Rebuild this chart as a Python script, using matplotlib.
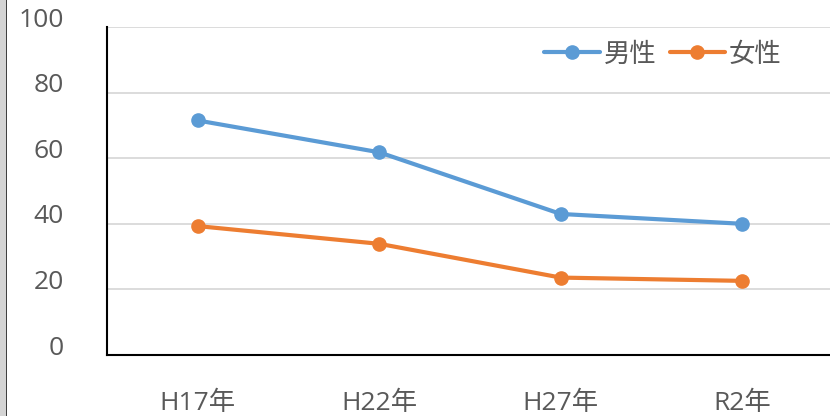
import matplotlib
matplotlib.use("Agg")
import matplotlib.pyplot as plt
import matplotlib.transforms as mtransforms
from matplotlib.patches import Rectangle

plt.rcParams['font.family'] = ['Open Sans', 'Noto Sans CJK JP', 'DejaVu Sans']

# --- data
categories = ["H17年", "H22年", "H27年", "R2年"]
male = [71.5, 61.8, 43.0, 40.0]
female = [39.3, 33.9, 23.6, 22.6]
yticks = [0, 20, 40, 60, 80, 100]

fig = plt.figure(figsize=(8.3, 4.16), dpi=100)
ax = fig.add_axes([107 / 830, 61 / 416, 726 / 830, 328 / 416])

x = range(len(categories))
ax.plot(x, male, color="#5B9BD5", lw=3.0, marker="o", ms=9.5, label="男性",
        solid_capstyle="round", zorder=3)
ax.plot(x, female, color="#ED7D31", lw=3.0, marker="o", ms=9.5, label="女性",
        solid_capstyle="round", zorder=3)

ax.set_xlim(-0.5, len(categories) - 0.5)
ax.set_ylim(0, 100)
ax.set_yticks(yticks)
ax.set_xticks(list(x))
ax.set_xticklabels(categories)

ax.grid(axis="y", color="#D9D9D9", lw=1.3)
ax.set_axisbelow(True)
for s in ["top", "right"]:
    ax.spines[s].set_visible(False)
for s in ["left", "bottom"]:
    ax.spines[s].set_color("black")
    ax.spines[s].set_linewidth(1.5)

ax.tick_params(axis="both", length=0, labelsize=19, colors="#595959")
ax.tick_params(axis="y", pad=31)
ax.tick_params(axis="x", pad=26)
shift = mtransforms.ScaledTranslation(0, 5 / 72, fig.dpi_scale_trans)
for lab in ax.get_yticklabels():
    lab.set_verticalalignment("center")
    lab.set_transform(lab.get_transform() + shift)

leg = ax.legend(loc="upper right", bbox_to_anchor=(0.962, 1.025), ncol=2,
                frameon=False, fontsize=19, handlelength=2.1,
                columnspacing=0.5, handletextpad=0.15, labelcolor="#595959")

# gray border on the left
fig.patches.append(Rectangle((0, 0), 6 / 830, 1, transform=fig.transFigure,
                             facecolor="#D4D4D4", edgecolor="none"))
fig.patches.append(Rectangle((6 / 830, 0), 1.2 / 830, 1, transform=fig.transFigure,
                             facecolor="#404040", edgecolor="none"))

fig.savefig("out.png", dpi=100, facecolor="white")
